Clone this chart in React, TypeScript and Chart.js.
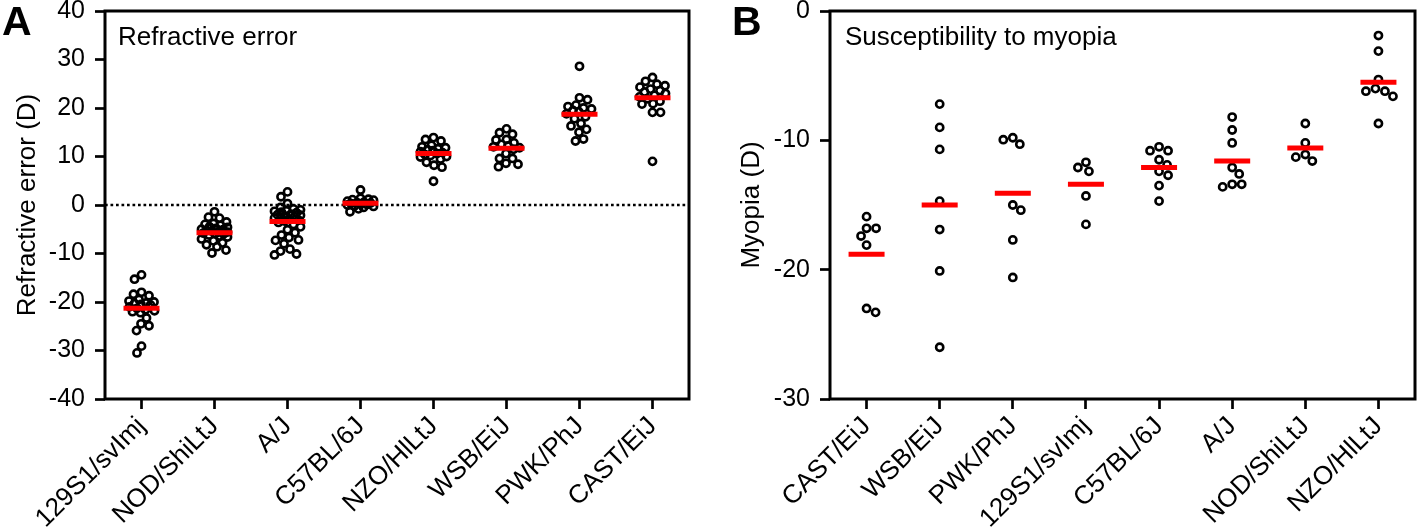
import React, { useEffect, useRef } from "react";
import { Chart, registerables } from "chart.js";
Chart.register(...registerables);

const FONT = "'Liberation Sans', Arial, Helvetica, sans-serif";

// ---------- Panel A: refractive error ----------
const categoriesA = ["129S1/svImj", "NOD/ShiLtJ", "A/J", "C57BL/6J", "NZO/HlLtJ", "WSB/EiJ", "PWK/PhJ", "CAST/EiJ"];
const yTicksA = [-40, -30, -20, -10, 0, 10, 20, 30, 40];

const refr129S1 = [-14.4, -15.3, -18.0, -18.4, -18.7, -19.5, -19.8, -20.0, -20.2, -20.3, -20.5, -20.6, -21.0, -21.3, -21.6, -21.8, -22.0, -22.2, -23.3, -24.5, -24.9, -25.9, -29.1, -30.5];
const refrNOD = [-1.4, -2.5, -2.7, -3.5, -3.8, -4.0, -4.2, -4.5, -4.6, -4.8, -5.0, -5.1, -5.3, -5.4, -5.5, -5.6, -5.8, -5.9, -6.0, -6.2, -6.4, -6.6, -7.0, -7.4, -7.8, -8.2, -8.6, -9.3, -9.9];
const refrAJ = [2.7, 1.7, 0.3, -0.5, -0.8, -1.0, -1.2, -1.3, -1.5, -1.6, -1.9, -2.0, -2.1, -2.3, -2.4, -2.5, -2.7, -2.9, -3.1, -3.3, -3.6, -4.0, -4.5, -5.1, -5.7, -6.2, -6.7, -7.2, -7.3, -8.0, -9.1, -9.5, -10.1, -10.3];
const refrC57 = [3.1, 1.4, 1.2, 1.1, 1.0, 0.8, 0.6, 0.5, 0.4, 0.3, 0.2, 0.1, 0.0, -0.2, -0.3, -0.5, -0.8, -1.4];
const refrNZO = [13.9, 13.5, 13.2, 12.3, 12.0, 11.8, 11.6, 11.4, 11.2, 11.0, 10.8, 10.6, 10.4, 10.2, 10.0, 9.9, 9.5, 8.8, 8.2, 7.8, 4.9];
const refrWSB = [15.7, 14.9, 14.6, 13.5, 13.4, 12.8, 12.5, 12.2, 12.0, 11.8, 11.5, 10.6, 9.6, 9.6, 8.6, 8.4, 7.9];
const refrPWK = [28.6, 22.1, 21.7, 20.6, 20.3, 20.0, 19.8, 19.5, 19.2, 18.8, 18.2, 17.8, 16.8, 16.3, 15.6, 15.0, 13.6, 13.2];
const refrCAST = [26.3, 25.5, 24.9, 24.6, 24.3, 23.9, 23.6, 23.3, 23.0, 22.6, 22.3, 21.9, 21.4, 20.9, 20.8, 19.1, 19.1, 9.0];
const meansA = [-21.3, -5.7, -3.4, 0.35, 10.6, 11.7, 18.7, 22.1];

// ---------- Panel B: susceptibility to myopia ----------
const categoriesB = ["CAST/EiJ", "WSB/EiJ", "PWK/PhJ", "129S1/svImj", "C57BL/6J", "A/J", "NOD/ShiLtJ", "NZO/HlLtJ"];
const yTicksB = [-30, -20, -10, 0];

const myoCAST = [-15.9, -16.8, -16.8, -17.4, -18.1, -23.3, -23.0];
const myoWSB = [-7.2, -9.0, -10.7, -14.7, -16.9, -20.1, -26.0];
const myoPWK = [-9.95, -10.3, -9.8, -15.4, -15.0, -17.7, -20.6];
const myo129S1 = [-11.7, -12.4, -12.1, -14.3, -16.5];
const myoC57 = [-10.8, -10.8, -10.5, -11.5, -11.9, -12.4, -12.7, -13.5, -14.7];
const myoAJ = [-8.2, -9.2, -10.2, -12.1, -12.6, -13.4, -13.6, -13.4];
const myoNOD = [-8.7, -10.2, -11.1, -11.6, -11.3];
const myoNZO = [-1.9, -3.1, -5.3, -6.0, -6.2, -6.6, -6.2, -8.7];
const meansB = [-18.8, -15.0, -14.1, -13.4, -12.1, -11.6, -10.6, -5.5];

const groupsA = [refr129S1, refrNOD, refrAJ, refrC57, refrNZO, refrWSB, refrPWK, refrCAST];
const groupsB = [myoCAST, myoWSB, myoPWK, myo129S1, myoC57, myoAJ, myoNOD, myoNZO];

// deterministic beeswarm: horizontal offsets (in category units) so circles don't overlap
function swarm(values: number[], pxPerUnit: number, pxPerCat: number, minDist: number, cap: number): number[] {
  const order = values.map((_, i) => i).sort((a, b) => values[b] - values[a]);
  const placed: { x: number; y: number }[] = [];
  const out = new Array(values.length).fill(0);
  order.forEach((idx, k) => {
    const y = values[idx] * pxPerUnit;
    const sign = k % 2 === 0 ? 1 : -1;
    let best = 0;
    let bestD = -1;
    let done = false;
    for (let step = 0; step <= cap * 2 && !done; step++) {
      const mag = step * 0.5;
      const signs = mag === 0 ? [1] : [sign, -sign];
      for (const s of signs) {
        const dx = s * mag;
        let d = Infinity;
        for (const p of placed) d = Math.min(d, Math.hypot(p.x - dx, p.y - y));
        if (d >= minDist) {
          best = dx;
          done = true;
          break;
        }
        if (d > bestD + 0.01) {
          bestD = d;
          best = dx;
        }
      }
    }
    placed.push({ x: best, y });
    out[idx] = best / pxPerCat;
  });
  return out;
}

function buildPoints(groups: number[][], pxPerUnit: number, minDist: number, cap: number) {
  return groups.flatMap((vals, i) => {
    const off = swarm(vals, pxPerUnit, 73, minDist, cap);
    return vals.map((v, j) => ({ x: i + off[j], y: v }));
  });
}

function decorPlugin(letter: string, letterX: number, title: string, titleX: number, zeroLine: boolean) {
  return {
    id: "decor" + letter,
    beforeDatasetsDraw(chart: any) {
      const { ctx, chartArea } = chart;
      if (zeroLine) {
        const y = chart.scales.y.getPixelForValue(0);
        ctx.save();
        ctx.strokeStyle = "#000";
        ctx.lineWidth = 2.7;
        ctx.setLineDash([2.7, 2.8]);
        ctx.beginPath();
        ctx.moveTo(chartArea.left, y);
        ctx.lineTo(chartArea.right, y);
        ctx.stroke();
        ctx.restore();
      }
    },
    afterDraw(chart: any) {
      const { ctx, chartArea } = chart;
      ctx.save();
      ctx.strokeStyle = "#000";
      ctx.lineWidth = 3;
      ctx.strokeRect(chartArea.left, chartArea.top, chartArea.right - chartArea.left, chartArea.bottom - chartArea.top);
      ctx.fillStyle = "#000";
      ctx.textBaseline = "alphabetic";
      ctx.textAlign = "left";
      ctx.font = `bold 41px ${FONT}`;
      ctx.fillText(letter, letterX, 35);
      ctx.font = `26px ${FONT}`;
      ctx.fillText(title, titleX, 45);
      ctx.restore();
    },
  };
}

function makeConfig(opts: {
  cats: string[];
  yTicks: number[];
  points: { x: number; y: number }[];
  means: number[];
  yTitle: string;
  yWidth: number;
  titlePad: number;
  padRight: number;
  plugin: any;
}): any {
  const { cats, yTicks, points, means, yTitle, yWidth, titlePad, padRight, plugin } = opts;
  return {
    type: "scatter",
    data: {
      datasets: [
        {
          data: means.map((m, i) => ({ x: i, y: m })),
          pointStyle: "line",
          pointRadius: 18,
          borderWidth: 5,
          borderColor: "#ff0000",
          backgroundColor: "#ff0000",
          order: 0,
        },
        {
          data: points,
          pointStyle: "circle",
          pointRadius: 3.6,
          borderWidth: 2.6,
          borderColor: "#000",
          backgroundColor: "rgba(0,0,0,0)",
          order: 1,
        },
      ],
    },
    options: {
      animation: false,
      responsive: false,
      events: [],
      layout: { autoPadding: false, padding: { left: 0, right: padRight, top: 11, bottom: 0 } },
      plugins: { legend: { display: false }, tooltip: { enabled: false } },
      scales: {
        x: {
          type: "linear",
          min: -0.5,
          max: cats.length - 0.5,
          afterBuildTicks: (s: any) => {
            s.ticks = cats.map((_, i) => ({ value: i }));
          },
          afterFit: (s: any) => {
            s.height = 131;
            s.paddingLeft = 0;
            s.paddingRight = 0;
          },
          ticks: {
            callback: (_v: any, i: number) => cats[i] ?? "",
            autoSkip: false,
            minRotation: 45,
            maxRotation: 45,
            padding: 2,
            color: "#000",
            font: { family: FONT, size: 26 },
          },
          grid: { drawOnChartArea: false, drawTicks: true, tickLength: 10, tickWidth: 2.7, tickColor: "#000" },
          border: { display: false },
        },
        y: {
          min: yTicks[0],
          max: yTicks[yTicks.length - 1],
          afterBuildTicks: (s: any) => {
            s.ticks = yTicks.map((v) => ({ value: v }));
          },
          afterFit: (s: any) => {
            s.width = yWidth;
            s.paddingTop = 0;
            s.paddingBottom = 0;
          },
          ticks: { padding: 10, color: "#000", font: { family: FONT, size: 25 } },
          grid: { drawOnChartArea: false, drawTicks: true, tickLength: 10, tickWidth: 2.7, tickColor: "#000" },
          border: { display: false },
          title: {
            display: true,
            text: yTitle,
            color: "#000",
            font: { family: FONT, size: 26 },
            padding: { top: titlePad, bottom: 0 },
          },
        },
      },
    },
    plugins: [plugin],
  };
}

export default function App() {
  const refA = useRef<HTMLCanvasElement>(null);
  const refB = useRef<HTMLCanvasElement>(null);

  useEffect(() => {
    document.body.style.margin = "0";
    const pointsA = buildPoints(groupsA, 388 / 80, 8, 13);
    const pointsB = buildPoints(groupsB, 388 / 30, 9.5, 20);
    const chartA = new Chart(
      refA.current as HTMLCanvasElement,
      makeConfig({
        cats: categoriesA,
        yTicks: yTicksA,
        points: pointsA,
        means: meansA,
        yTitle: "Refractive error (D)",
        yWidth: 105,
        titlePad: 12,
        padRight: 11,
        plugin: decorPlugin("A", 2, "Refractive error", 118, true),
      })
    );
    const chartB = new Chart(
      refB.current as HTMLCanvasElement,
      makeConfig({
        cats: categoriesB,
        yTicks: yTicksB,
        points: pointsB,
        means: meansB,
        yTitle: "Myopia (D)",
        yWidth: 110,
        titlePad: 16,
        padRight: 2,
        plugin: decorPlugin("B", 12, "Susceptibility to myopia", 125, false),
      })
    );
    return () => {
      chartA.destroy();
      chartB.destroy();
    };
  }, []);

  return (
    <div style={{ position: "fixed", left: 0, top: 0, width: 1417, height: 530, background: "#fff", overflow: "hidden" }}>
      <canvas ref={refA} width={700} height={530} style={{ position: "absolute", left: 0, top: 0, width: 700, height: 530 }} />
      <canvas ref={refB} width={697} height={530} style={{ position: "absolute", left: 720, top: 0, width: 697, height: 530 }} />
    </div>
  );
}
